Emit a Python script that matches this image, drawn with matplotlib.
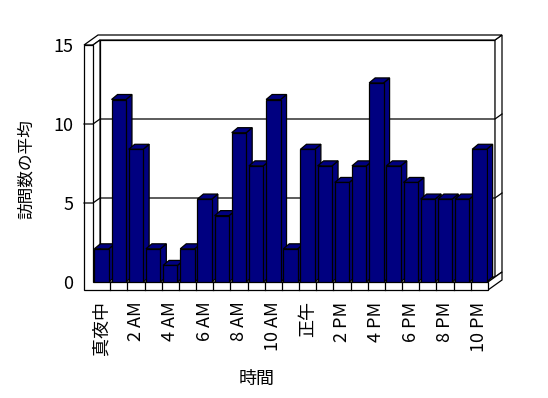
import matplotlib
matplotlib.use("Agg")
import matplotlib.pyplot as plt
from matplotlib.patches import Polygon

plt.rcParams['font.family'] = ['Noto Sans CJK JP', 'DejaVu Sans']

# average visits per hour (hour 0 .. 22)
hours = list(range(23))
visits = [2.1, 11.55, 8.4, 2.1, 1.05, 2.1, 5.25, 4.2, 9.45, 7.35, 11.55, 2.1,
          8.4, 7.35, 6.3, 7.35, 12.6, 7.35, 6.3, 5.25, 5.25, 5.25, 8.4]
tick_hours = [0, 2, 4, 6, 8, 10, 12, 14, 16, 18, 20, 22]
tick_labels = ['真夜中', '2 AM', '4 AM', '6 AM', '8 AM', '10 AM', '正午',
               '2 PM', '4 PM', '6 PM', '8 PM', '10 PM']
y_ticks = [0, 5, 10, 15]

navy = '#000080'
lw = 0.9

fig = plt.figure(figsize=(5.48, 3.98), dpi=100)
ax = fig.add_axes([93/548, 1-282/398, 395/548, 237/398])
ax.set_xlim(-0.5, len(hours)-0.5)
ax.set_ylim(0, 15)
for s in ax.spines.values():
    s.set_visible(False)

# pixel sizes of the fake 3d depth, turned into data units
ux = 395/len(hours)       # px per category
uy = 237/15               # px per unit
DX, DY = 7/ux, 5/uy       # wall depth
BX, BY = 6/ux, 5/uy       # bar depth
XL, XR = -0.5, len(hours)-0.5
xo = XL - 9/ux            # left wall outer face
yb = -8/uy                # floor bottom

def P(x, y, d):
    return (x + d*DX, y + d*DY)

def face(pts, z, fc='white'):
    ax.add_patch(Polygon(pts, closed=True, facecolor=fc, edgecolor='black',
                         linewidth=lw, zorder=z, clip_on=False))

# back wall front face and floor top
face([P(XL, 0, 1), P(XR, 0, 1), P(XR, 15, 1), P(XL, 15, 1)], 1)
face([P(XL, 0, 0), P(XR, 0, 0), P(XR, 0, 1), P(XL, 0, 1)], 1)
# back wall right side, top
face([P(XR, 0, 1), P(XR, 0, 2), P(XR, 15, 2), P(XR, 15, 1)], 1)
face([P(xo, 15, 0), P(XL, 15, 0), P(XL, 15, 1), P(XR, 15, 1),
      P(XR, 15, 2), P(xo, 15, 2)], 1)
# left wall inner face
face([P(XL, 0, 0), P(XL, 0, 1), P(XL, 15, 1), P(XL, 15, 0)], 1)
# floor right side
face([P(XR, 0, 0), P(XR, 0, 2), P(XR, yb, 2), P(XR, yb, 0)], 1)
# left wall + floor front faces
face([P(xo, 15, 0), P(XL, 15, 0), P(XL, 0, 0), P(XR, 0, 0),
      P(XR, yb, 0), P(xo, yb, 0)], 1)

# gridlines wrapping over the walls
for v in y_ticks[1:-1]:
    pts = [P(xo, v, 0), P(XL, v, 0), P(XL, v, 1), P(XR, v, 1), P(XR, v, 2)]
    ax.plot([p[0] for p in pts], [p[1] for p in pts], color='black',
            linewidth=lw, zorder=1.5, clip_on=False)

# category ticks on the floor strip
for k in range(1, len(hours)):
    ax.plot([XL+k, XL+k], [yb, 0], color='black', linewidth=lw, zorder=1.5,
            clip_on=False)

# bars
w = 0.84
for i, v in zip(hours, visits):
    z = 3 + i*0.01
    ax.bar(i, v, width=w, color=navy, edgecolor='black', linewidth=lw, zorder=z)
    l, r = i - w/2, i + w/2
    face([(r, 0), (r+BX, BY), (r+BX, v+BY), (r, v)], z-0.001, navy)
    face([(l, v), (r, v), (r+BX, v+BY), (l+BX, v+BY)], z-0.001, navy)

ax.set_yticks(y_ticks)
ax.set_xticks(tick_hours)
ax.set_xticklabels(tick_labels, rotation=90)
ax.tick_params(axis='y', length=0, pad=14, labelsize=13)
ax.tick_params(axis='x', length=0, pad=14, labelsize=13)
for t in ax.get_xticklabels():
    t.set_verticalalignment('top')

ax.set_ylabel('訪問数の平均', fontsize=12)
ax.yaxis.set_label_coords(-0.147, 0.477)
ax.set_xlabel('時間', fontsize=13)
ax.xaxis.set_label_coords(0.415, -0.37)

fig.savefig('out.png', dpi=100)
